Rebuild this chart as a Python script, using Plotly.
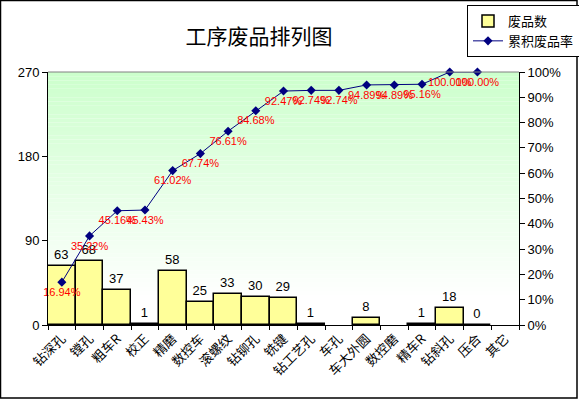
import plotly.graph_objects as go

# process categories and reject counts
processes = ["钻深孔", "镗孔", "粗车R", "校正", "精磨", "数控车", "滚螺纹", "钻铆孔", "铣键",
             "钻工艺孔", "车孔", "车大外圆", "数控磨", "精车R", "钻斜孔", "压合", "其它"]
rejects = [63, 68, 37, 1, 58, 25, 33, 30, 29, 1, None, 8, None, 1, 18, 0, None]
# cumulative reject rate (%), last category has no point
cum_rate = [16.94, 35.22, 45.16, 45.43, 61.02, 67.74, 76.61, 84.68, 92.47,
            92.74, 92.74, 94.89, 94.89, 95.16, 100.00, 100.00, None]

W, H = 579, 401
L, R, T, B = 48, 60, 72, 76
pw, ph = W - L - R, H - T - B

font_main = "Liberation Sans, Noto Sans CJK SC, sans-serif"
font_cjk = "Noto Sans CJK SC, sans-serif"

fig = go.Figure()
fig.add_trace(go.Bar(
    x=processes, y=rejects, name="废品数",
    marker=dict(color="#ffff99", line=dict(color="black", width=1.5)),
    text=[("" if v is None else str(v)) for v in rejects],
    textposition="outside", cliponaxis=False,
    textfont=dict(size=13, color="black", family=font_main),
))
fig.add_trace(go.Scatter(
    x=processes, y=[None if v is None else v / 100 for v in cum_rate],
    name="累积废品率", yaxis="y2", mode="lines+markers+text",
    line=dict(color="#000080", width=1),
    marker=dict(symbol="diamond", size=7, color="#000080"),
    text=[("" if v is None else f"{v:.2f}%") for v in cum_rate],
    textposition="bottom center", cliponaxis=False,
    textfont=dict(size=11, color="red", family=font_main),
))

# green to white gradient in the plot area
shapes = []
n = 60
top = (204, 255, 204)
for i in range(n):
    f = min(1.0, i / (n - 1) / 0.9)
    c = tuple(int(round(top[k] + (255 - top[k]) * f)) for k in range(3))
    shapes.append(dict(type="rect", xref="paper", yref="paper",
                       x0=0, x1=1, y0=1 - (i + 1) / n, y1=1 - i / n,
                       fillcolor=f"rgb{c}", line=dict(width=0), layer="below"))
# grey top edge of plot area
shapes.append(dict(type="line", xref="paper", yref="paper", x0=0, x1=1, y0=1, y1=1,
                   line=dict(color="#808080", width=1)))
# outer chart border
shapes.append(dict(type="rect", xref="paper", yref="paper",
                   x0=(0.5 - L) / pw, x1=(577 - L) / pw,
                   y0=(T + ph - 398) / ph, y1=(T + ph - 0.5) / ph,
                   line=dict(color="black", width=1.5), fillcolor="rgba(0,0,0,0)"))

fig.update_layout(
    width=W, height=H,
    margin=dict(l=L, r=R, t=T, b=B, autoexpand=False),
    paper_bgcolor="white", plot_bgcolor="rgba(0,0,0,0)",
    title=dict(text="工序废品排列图", x=259 / W, xref="container", xanchor="center",
               y=1 - 37 / H, yref="container", yanchor="middle",
               font=dict(size=21, color="black", family=font_cjk)),
    bargap=0,
    showlegend=True,
    legend=dict(x=(467 - L) / pw, y=(T + ph - 5) / ph, xanchor="left", yanchor="top",
                bgcolor="white", bordercolor="black", borderwidth=1,
                font=dict(size=13, color="black", family=font_cjk),
                tracegroupgap=0, itemwidth=30),
    xaxis=dict(type="category", range=[-0.5, len(processes) - 0.5],
               tickangle=-45, tickson="boundaries",
               ticks="outside", ticklen=4, tickcolor="black",
               showline=True, linecolor="black", linewidth=1,
               showgrid=False, automargin=False,
               tickfont=dict(size=13, color="black", family=font_cjk)),
    yaxis=dict(range=[0, 270], dtick=90, ticks="outside", ticklen=5, tickcolor="black",
               showline=True, linecolor="black", linewidth=1, showgrid=False,
               zeroline=False, automargin=False,
               tickfont=dict(size=13, color="black", family=font_main)),
    yaxis2=dict(range=[0, 1], dtick=0.1, tickformat=".0%", overlaying="y", side="right",
                ticks="outside", ticklen=5, tickcolor="black",
                showline=True, linecolor="black", linewidth=1, showgrid=False,
                zeroline=False, automargin=False,
                tickfont=dict(size=13, color="black", family=font_main)),
    shapes=shapes,
)

fig.write_html("out.html", config={"displayModeBar": False},
               post_script="document.body.style.margin='0';")
